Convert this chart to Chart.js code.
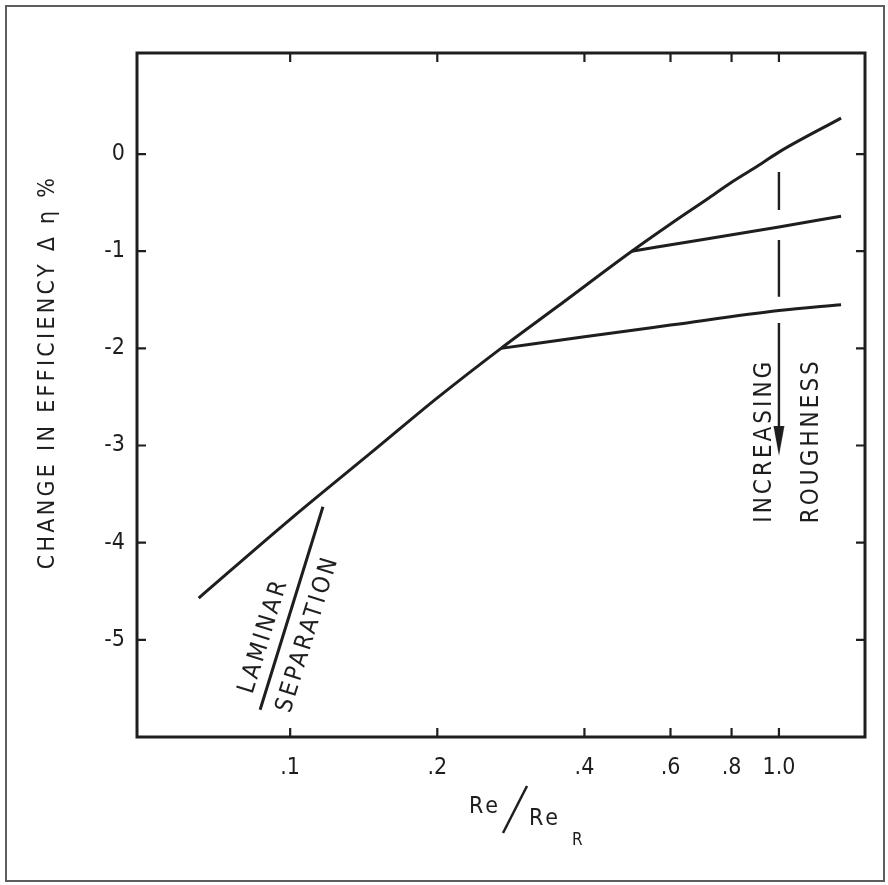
<!DOCTYPE html>
<html>
<head>
<meta charset="utf-8">
<script src="https://cdn.jsdelivr.net/npm/chart.js@4.4.0/dist/chart.umd.min.js"></script>
<style>
  html, body { margin: 0; padding: 0; background: #fff; }
  #wrap { position: relative; width: 888px; height: 885px; }
  #chart { position: absolute; left: 0; top: 0; }
  #frame { position: absolute; left: 5px; top: 5px; width: 880px; height: 877px; border: 2px solid #5e5e5e; box-sizing: border-box; pointer-events: none; }
</style>
</head>
<body>
<div id="wrap"><canvas id="chart" width="888" height="885"></canvas><div id="frame"></div></div>
<script>
// values: x = Re/Re_R (log scale), y = change in efficiency %
var mainX = [0.065, 0.1, 0.15, 0.2, 0.27, 0.35, 0.5, 0.6, 0.72, 0.8, 0.92, 1.0, 1.34];
var mainY = [-4.57, -3.76, -3.03, -2.51, -2.0, -1.58, -1.0, -0.72, -0.45, -0.29, -0.10, 0.02, 0.37];
var roughAX = [0.5, 0.7, 1.0, 1.34];
var roughAY = [-1.0, -0.88, -0.75, -0.64];
var roughBX = [0.27, 0.4, 0.6, 1.0, 1.34];
var roughBY = [-2.0, -1.88, -1.76, -1.61, -1.55];
var laminarX = [0.0868, 0.1167];
var laminarY = [-5.72, -3.63];
var arrowX = [1.0, 1.0, 1.0, 1.0, 1.0, 1.0, 1.0, 1.0];
var arrowY = [-0.185, -0.576, null, -0.885, -1.47, null, -1.74, -2.95];

var xTicks = [0.1, 0.2, 0.4, 0.6, 0.8, 1.0];
var xTickLabels = ['.1', '.2', '.4', '.6', '.8', '1.0'];
var yTicks = [0, -1, -2, -3, -4, -5];

var ink = '#1e1e1e';
var family = '"DejaVu Sans Condensed", "DejaVu Sans", sans-serif';

function points(xs, ys) {
  return xs.map(function (x, i) { return { x: x, y: ys[i] }; });
}

// narrow arrow head used as point style
var arrowHead = document.createElement('canvas');
arrowHead.width = 12;
arrowHead.height = 30;
(function () {
  var c = arrowHead.getContext('2d');
  c.fillStyle = ink;
  c.beginPath();
  c.moveTo(0.5, 0);
  c.lineTo(11.5, 0);
  c.lineTo(6, 30);
  c.closePath();
  c.fill();
})();

function drawText(ctx, text, x, y, angle, size, spacing) {
  ctx.save();
  ctx.translate(x, y);
  ctx.rotate(angle);
  ctx.font = size + 'px ' + family;
  ctx.letterSpacing = spacing + 'px';
  ctx.fillStyle = ink;
  ctx.textAlign = 'center';
  ctx.textBaseline = 'middle';
  ctx.fillText(text, 0, 0);
  ctx.restore();
}

var figurePlugin = {
  id: 'figure',
  afterDraw: function (chart) {
    var ctx = chart.ctx;
    var a = chart.chartArea;
    var xs = chart.scales.x;
    var ys = chart.scales.y;
    ctx.save();
    ctx.strokeStyle = ink;
    ctx.lineWidth = 3;
    ctx.strokeRect(a.left, a.top, a.right - a.left, a.bottom - a.top);

    // inward tick marks on all four sides
    ctx.lineWidth = 2.2;
    ctx.beginPath();
    xTicks.forEach(function (v) {
      var px = xs.getPixelForValue(v);
      ctx.moveTo(px, a.bottom); ctx.lineTo(px, a.bottom - 9);
      ctx.moveTo(px, a.top); ctx.lineTo(px, a.top + 9);
    });
    yTicks.forEach(function (v) {
      var py = ys.getPixelForValue(v);
      ctx.moveTo(a.left, py); ctx.lineTo(a.left + 9, py);
      ctx.moveTo(a.right, py); ctx.lineTo(a.right - 9, py);
    });
    ctx.stroke();

    // slash of the Re / Re_R title
    ctx.lineWidth = 2.5;
    ctx.beginPath();
    ctx.moveTo(503, 833);
    ctx.lineTo(527, 786);
    ctx.stroke();
    ctx.restore();

    // axis titles
    drawText(ctx, 'CHANGE IN EFFICIENCY \u0394 \u03b7 %', a.left - 89, a.top + 319, -Math.PI / 2, 23, 3.3);

    ctx.save();
    ctx.fillStyle = ink;
    ctx.textBaseline = 'alphabetic';
    ctx.textAlign = 'left';
    ctx.letterSpacing = '3px';
    ctx.font = '23px ' + family;
    ctx.fillText('Re', 469, 813);
    ctx.fillText('Re', 529, 825);
    ctx.font = '17px ' + family;
    ctx.fillText('R', 572, 845);
    ctx.restore();

    // annotations
    var p1x = xs.getPixelForValue(laminarX[0]), p1y = ys.getPixelForValue(laminarY[0]);
    var p2x = xs.getPixelForValue(laminarX[1]), p2y = ys.getPixelForValue(laminarY[1]);
    var ang = Math.atan2(p2y - p1y, p2x - p1x);
    drawText(ctx, 'LAMINAR', xs.getPixelForValue(0.0884), ys.getPixelForValue(-4.96), ang, 24, 3);
    drawText(ctx, 'SEPARATION', xs.getPixelForValue(0.1088), ys.getPixelForValue(-4.94), ang, 24, 3);
    drawText(ctx, 'INCREASING', xs.getPixelForValue(0.935), ys.getPixelForValue(-2.95), -Math.PI / 2, 24, 3);
    drawText(ctx, 'ROUGHNESS', xs.getPixelForValue(1.165), ys.getPixelForValue(-2.95), -Math.PI / 2, 24, 3);
  }
};

function lineSet(data, width) {
  return {
    data: data,
    borderColor: ink,
    borderWidth: width,
    pointRadius: 0,
    cubicInterpolationMode: 'monotone',
    fill: false,
    spanGaps: false
  };
}

var roughArrow = lineSet(points(arrowX, arrowY), 2.4);
var laminar = lineSet(points(laminarX, laminarY), 3);
var head = {
  data: [{ x: arrowX[arrowX.length - 1], y: arrowY[arrowY.length - 1] }],
  showLine: false,
  pointStyle: arrowHead,
  pointRadius: 10
};

new Chart(document.getElementById('chart'), {
  type: 'line',
  data: {
    datasets: [
      lineSet(points(mainX, mainY), 3),
      lineSet(points(roughAX, roughAY), 3),
      lineSet(points(roughBX, roughBY), 3),
      laminar,
      roughArrow,
      head
    ]
  },
  options: {
    responsive: false,
    animation: false,
    devicePixelRatio: 1,
    layout: { padding: { top: 53, right: 23, left: 0, bottom: 0 } },
    plugins: { legend: { display: false }, tooltip: { enabled: false } },
    scales: {
      x: {
        type: 'logarithmic',
        min: 0.0486,
        max: 1.5,
        afterBuildTicks: function (s) { s.ticks = xTicks.map(function (v) { return { value: v }; }); },
        afterFit: function (s) { s.height = 148; },
        grid: { display: false, drawTicks: false },
        border: { display: false },
        ticks: {
          autoSkip: false,
          maxRotation: 0,
          padding: 17,
          color: ink,
          font: { family: family, size: 23 },
          callback: function (v, i) { return xTickLabels[i]; }
        }
      },
      y: {
        min: -6,
        max: 1.04,
        afterBuildTicks: function (s) { s.ticks = yTicks.map(function (v) { return { value: v }; }); },
        afterFit: function (s) { s.width = 137; },
        grid: { display: false, drawTicks: false },
        border: { display: false },
        ticks: {
          padding: 12,
          color: ink,
          font: { family: family, size: 23 },
          callback: function (v) { return String(v); }
        }
      }
    }
  },
  plugins: [figurePlugin]
});
</script>
</body>
</html>
